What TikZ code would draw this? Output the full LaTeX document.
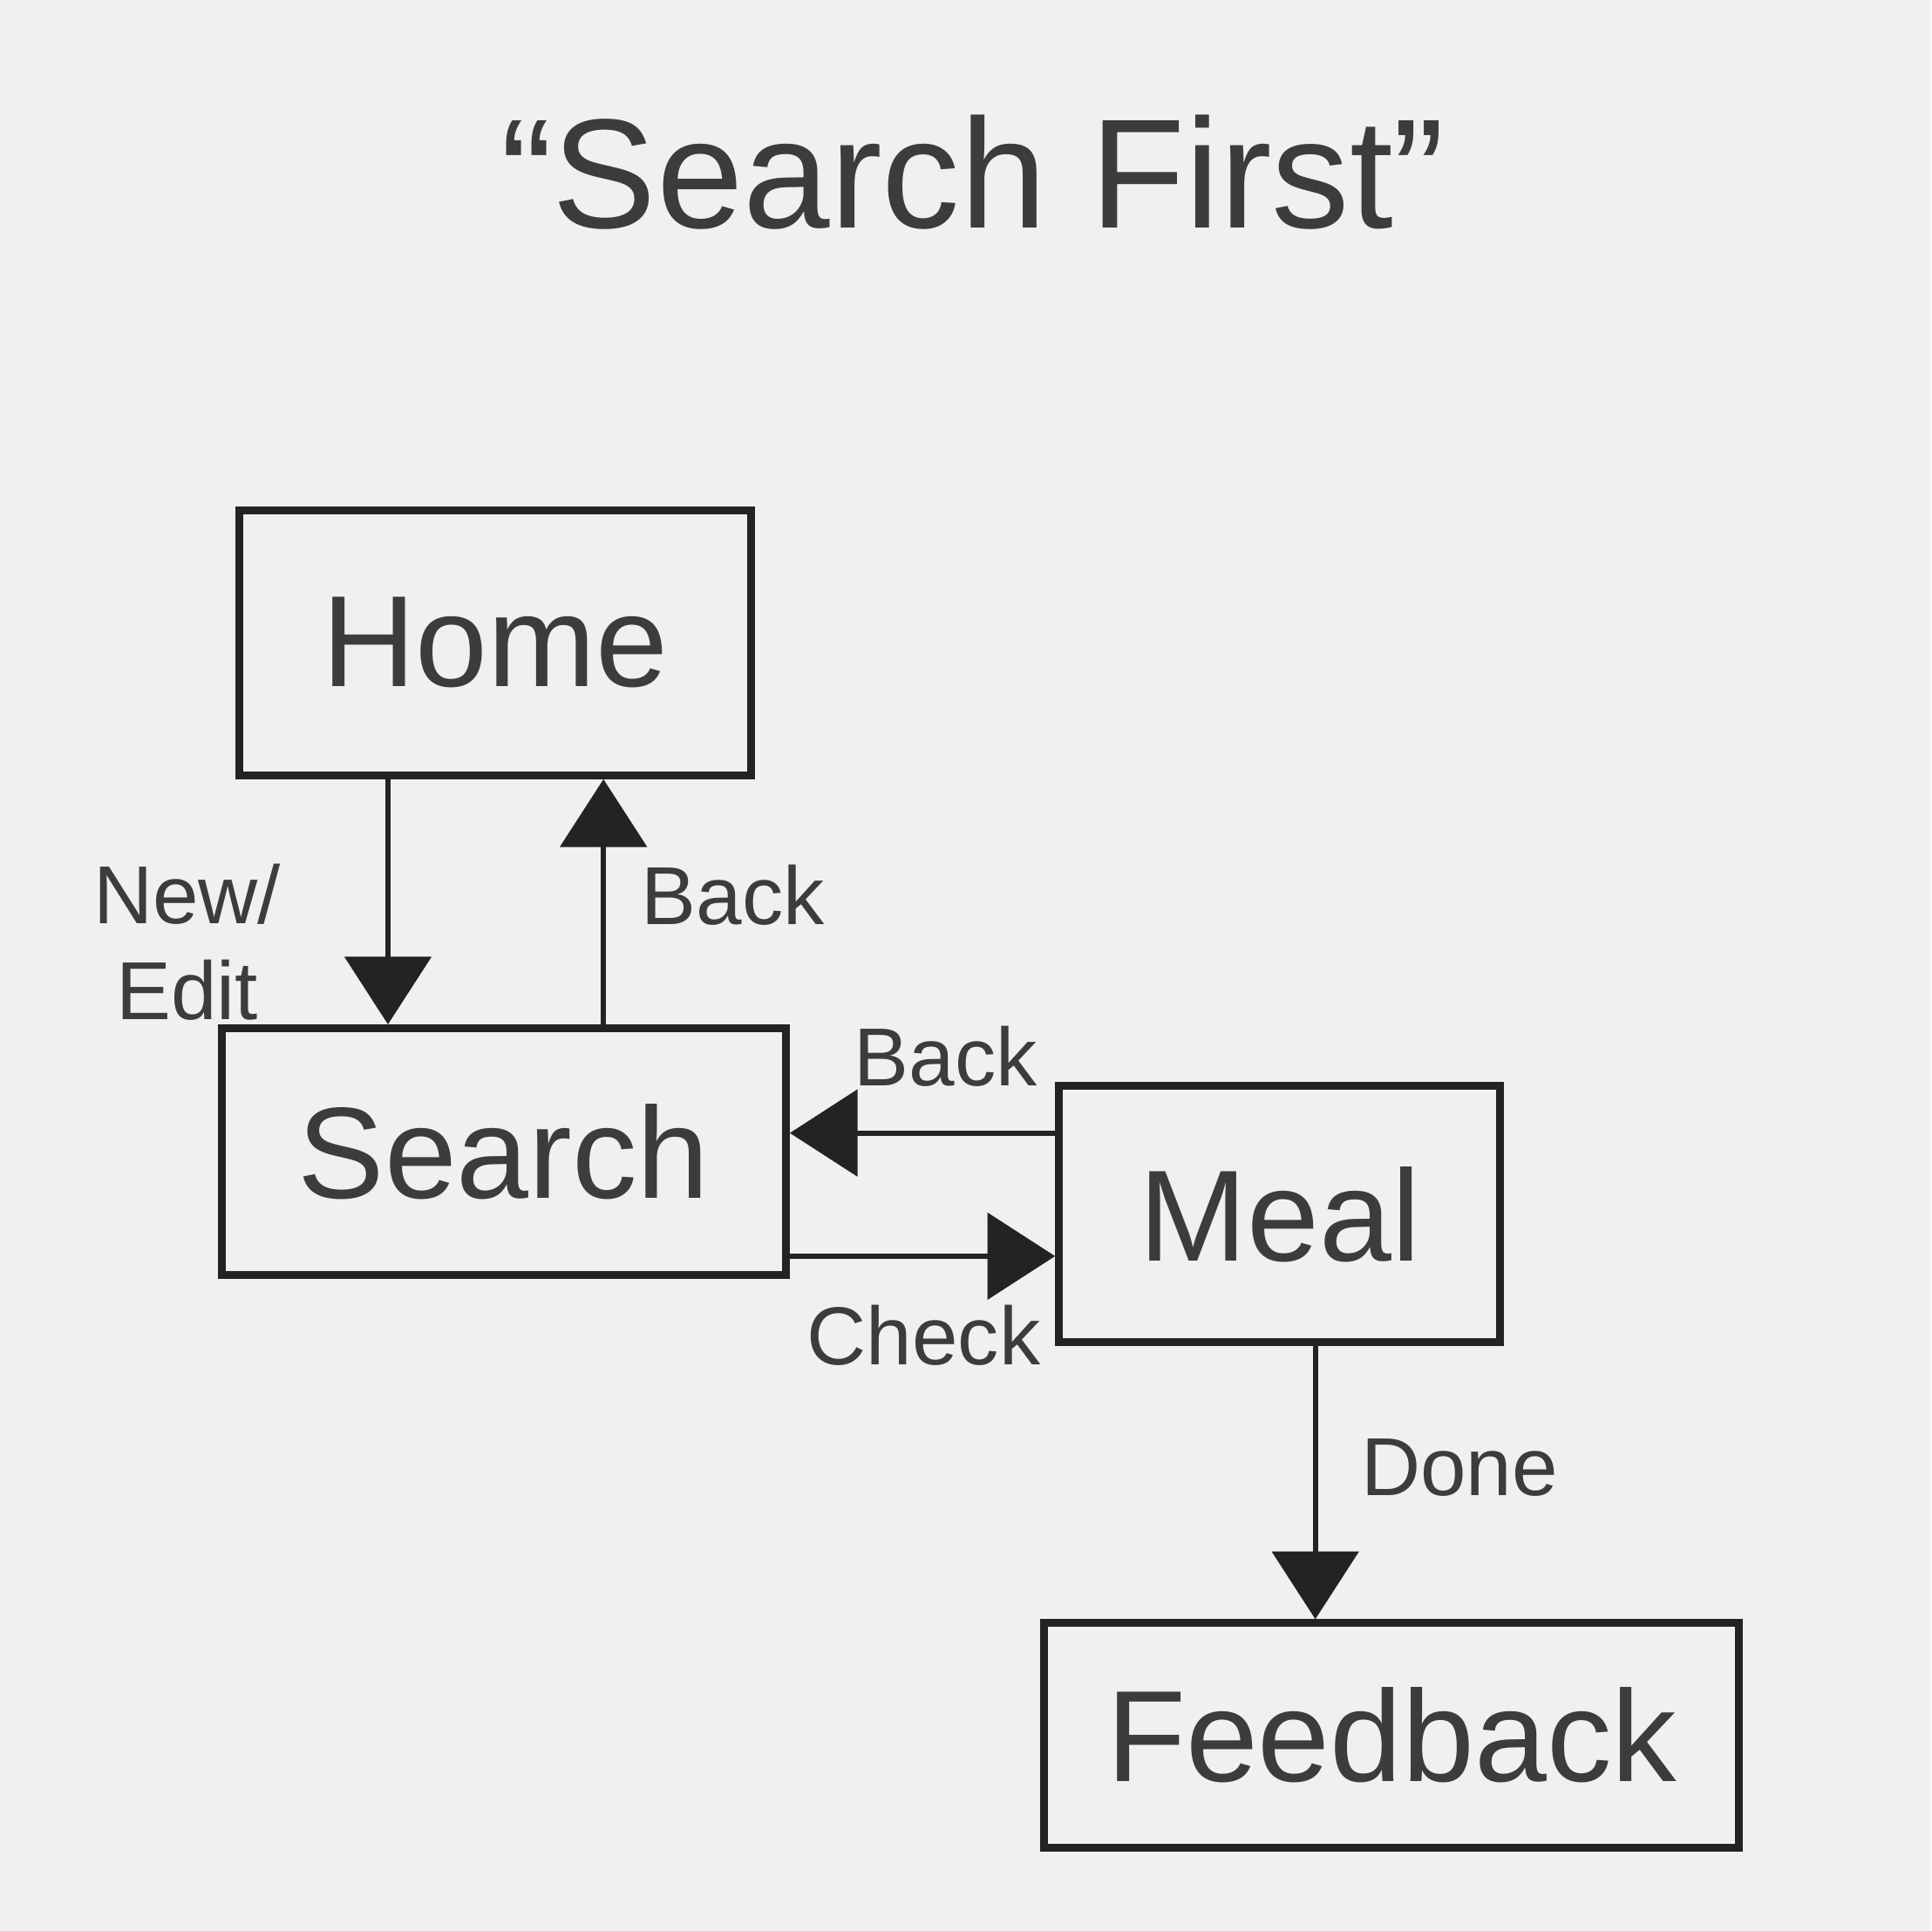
\documentclass[tikz,border=0pt]{standalone}
\usepackage{fontspec}
\setmainfont{Liberation Sans}
\usetikzlibrary{arrows.meta}
\definecolor{paper}{RGB}{240,240,240}
\definecolor{ink}{RGB}{35,35,35}
\definecolor{pencil}{RGB}{60,60,60}
\begin{document}
\begin{tikzpicture}[x=0.01cm,y=-0.01cm,
  screen/.style={draw=ink,line width=1.8pt,inner sep=0pt,text=pencil,
    font=\fontsize{30}{34}\selectfont},
  flow/.style={draw=ink,line width=1.2pt,-{Triangle[length=5.5mm,width=7mm]}},
  lbl/.style={text=pencil,font=\fontsize{19}{22}\selectfont,align=center}]
\fill[paper] (0,0) rectangle (1568,1568);
\useasboundingbox (0,0) rectangle (1568,1568);
\node[text=pencil,font=\fontsize{36}{40}\selectfont] (title) at (790,140) {“Search First”};
\node[screen,minimum width=4.15cm,minimum height=2.15cm] (home) at (402,522) {Home};
\node[screen,minimum width=4.58cm,minimum height=2.0cm] (search) at (409,935) {Search};
\node[screen,minimum width=3.58cm,minimum height=2.08cm] (meal) at (1039,986) {Meal};
\node[screen,minimum width=5.64cm,minimum height=1.82cm] (feedback) at (1130,1409) {Feedback};
\coordinate (xa) at (315,0);
\coordinate (xb) at (490,0);
\coordinate (ya) at (0,920);
\coordinate (yb) at (0,1020);
\coordinate (xc) at (1068,0);
\draw[flow] (home.south -| xa) -- (search.north -| xa);
\draw[flow] (search.north -| xb) -- (home.south -| xb);
\draw[flow] (meal.west |- ya) -- (search.east |- ya);
\draw[flow] (search.east |- yb) -- (meal.west |- yb);
\draw[flow] (meal.south -| xc) -- (feedback.north -| xc);
\node[lbl] (newedit) at (152,765) {New/\\Edit};
\node[lbl] (back1) at (595,727) {Back};
\node[lbl] (back2) at (768,858) {Back};
\node[lbl] (check) at (750,1084) {Check};
\node[lbl] (done) at (1185,1192) {Done};
\end{tikzpicture}
\end{document}
